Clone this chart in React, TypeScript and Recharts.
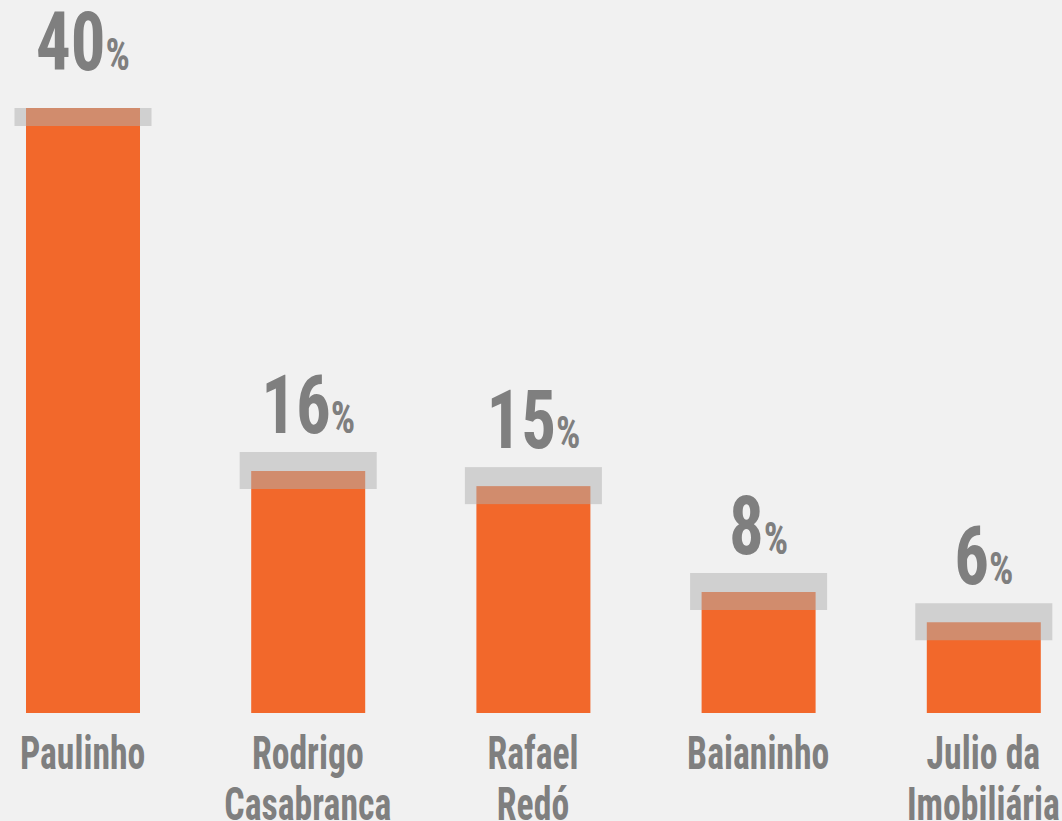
import { BarChart, Bar, XAxis, YAxis, LabelList } from 'recharts';

// Share per candidate, in percent
const NAMES = ['Paulinho', 'Rodrigo\nCasabranca', 'Rafael\nRedó', 'Baianinho', 'Julio da\nImobiliária'];
const SHARES = [40, 16, 15, 8, 6];

const data = NAMES.map((name, i) => ({ name, value: SHARES[i] }));

const ORANGE = '#f2682b';
const TEXT = '#7f7f7f';
const BG = '#f1f1f1';
const FONT = "'Liberation Sans Narrow', 'Roboto Condensed', 'DejaVu Sans Condensed', 'Liberation Sans', sans-serif";

// Bar plus the translucent grey band straddling its top edge
function BandedBar(props: any) {
  const { x, y, width, height } = props;
  return (
    <g>
      <rect x={x} y={y} width={width} height={height} fill={ORANGE} />
      <rect x={x - 11.5} y={y - 19} width={width + 23} height={37} fill="#b0b0b0" fillOpacity={0.5} />
    </g>
  );
}

function ValueLabel(props: any) {
  const { x, y, width, value } = props;
  return (
    <text
      transform={`translate(${x + width / 2},${y - 38}) scale(0.85,1)`}
      textAnchor="middle"
      fill={TEXT}
      fontFamily={FONT}
      fontWeight="bold"
    >
      <tspan fontSize={81}>{value}</tspan>
      <tspan fontSize={45}>%</tspan>
    </text>
  );
}

function NameTick(props: any) {
  const { x, y, payload } = props;
  const lines = String(payload.value).split('\n');
  return (
    <g>
      {lines.map((line, i) => (
        <text
          key={i}
          transform={`translate(${x},${y + 56 + i * 51}) scale(0.76,1)`}
          textAnchor="middle"
          fill={TEXT}
          fontFamily={FONT}
          fontWeight="bold"
          fontSize={47}
        >
          {line}
        </text>
      ))}
    </g>
  );
}

export default function App() {
  return (
    <div
      style={{
        position: 'fixed', top: 0, left: 0, width: 1062, height: 821,
        overflow: 'hidden', background: BG,
      }}
    >
      <div style={{ position: 'absolute', left: -30, top: 0 }}>
        <BarChart width={1126} height={821} data={data} margin={{ top: 108, right: 0, bottom: 0, left: 0 }}>
          <YAxis hide domain={[0, 40]} allowDataOverflow />
          <XAxis
            dataKey="name"
            height={108}
            axisLine={false}
            tickLine={false}
            tickSize={0}
            tickMargin={0}
            interval={0}
            tick={<NameTick />}
          />
          <Bar dataKey="value" barSize={114} shape={<BandedBar />} isAnimationActive={false}>
            <LabelList dataKey="value" content={<ValueLabel />} />
          </Bar>
        </BarChart>
      </div>
    </div>
  );
}
